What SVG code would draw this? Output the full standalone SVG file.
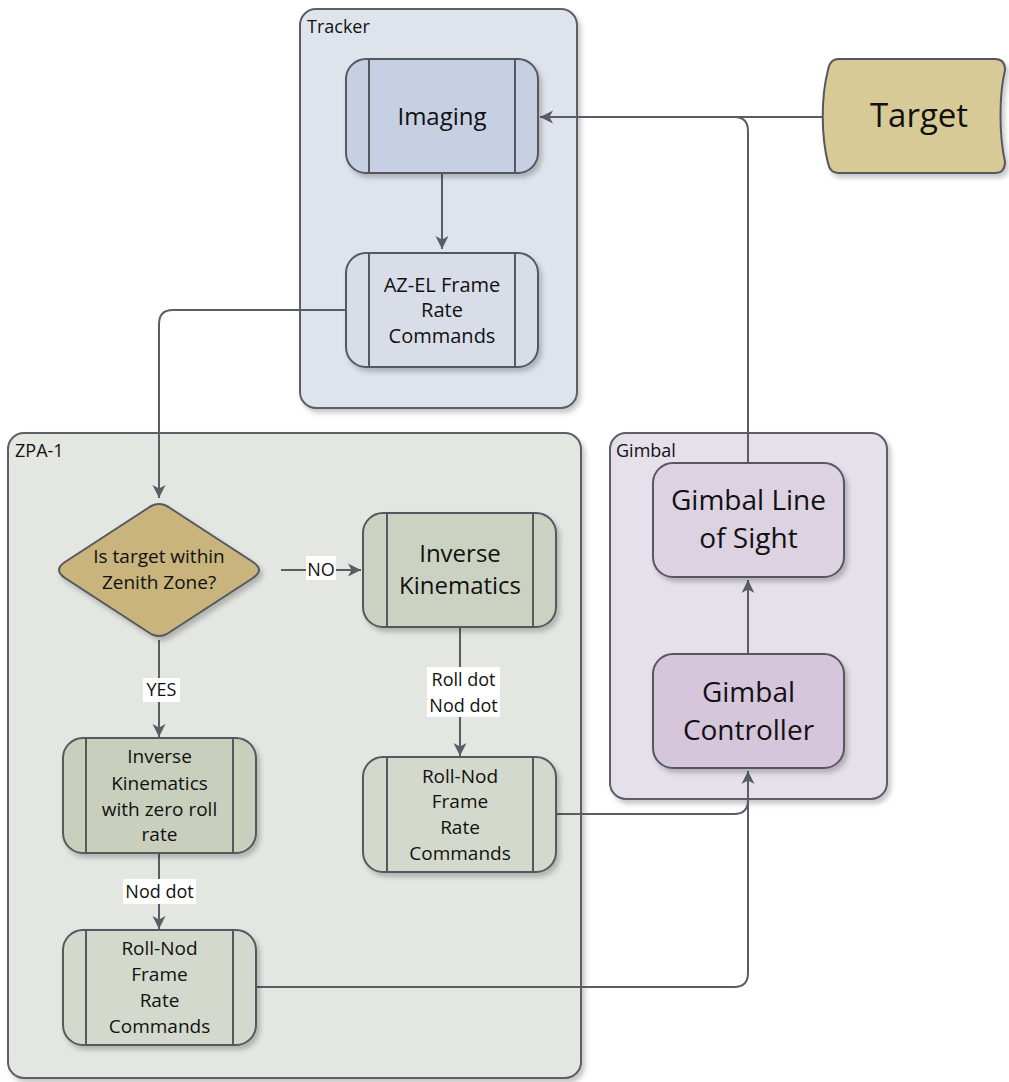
<svg xmlns="http://www.w3.org/2000/svg" width="1009" height="1082" viewBox="0 0 1009 1082">
<style>
text{font-family:"Open Sans","Noto Sans",sans-serif;fill:#111;}
.c{text-anchor:middle;}
.cont{stroke:#5c5f66;stroke-width:2;}
.node{stroke:#55585e;stroke-width:2;}
.div{stroke:#55585e;stroke-width:2;fill:none;}
.conn path{fill:none;stroke:#5a5d64;stroke-width:2;}
.lbl{fill:#fff;}
.s19{font-size:19px;}
.s18{font-size:18px;}
.big{font-size:28px;}
</style>
<defs>
<filter id="sh" x="-10%" y="-10%" width="130%" height="130%">
<feDropShadow dx="3" dy="4" stdDeviation="2.5" flood-color="#000" flood-opacity="0.22"/>
</filter>
<marker id="ah" markerUnits="userSpaceOnUse" markerWidth="14" markerHeight="14" refX="13" refY="7" orient="auto">
<path d="M0,0.5 L13,7 L0,13.5 L3.5,7 z" fill="#5a5d64"/>
</marker>
</defs>
<rect width="1009" height="1082" fill="#fff"/>

<g id="tracker">
<rect class="cont" x="300" y="9" width="277" height="399" rx="16" fill="#dfe4ec" filter="url(#sh)"/>
<text x="307" y="33" style="font-size:18px">Tracker</text>
</g>
<g id="zpa1">
<rect class="cont" x="8" y="433" width="573" height="645" rx="16" fill="#e3e6e1" filter="url(#sh)"/>
<text x="15" y="457" style="font-size:18px">ZPA-1</text>
</g>
<g id="gimbal">
<rect class="cont" x="610" y="433" width="277" height="366" rx="16" fill="#e6e0ea" filter="url(#sh)"/>
<text x="616" y="457" style="font-size:18px">Gimbal</text>
</g>

<g class="conn" id="connectors">
<path d="M442 173 V249" marker-end="url(#ah)"/>
<path d="M825 117 H540" marker-end="url(#ah)"/>
<path d="M748 463 V131 Q748 117 734 117 H700"/>
<path d="M346 310 H173 Q159 310 159 324 V498" marker-end="url(#ah)"/>
<path d="M281 570 H361" marker-end="url(#ah)"/>
<path d="M159 640 V737" marker-end="url(#ah)"/>
<path d="M460 627 V756" marker-end="url(#ah)"/>
<path d="M159 853 V929" marker-end="url(#ah)"/>
<path d="M556 814 H734 Q748 814 748 800 V771" marker-end="url(#ah)"/>
<path d="M256 987 H734 Q748 987 748 973 V790"/>
<path d="M748 654 V580" marker-end="url(#ah)"/>
</g>

<g id="imaging">
<rect class="node" x="346" y="59" width="192" height="114" rx="20" fill="#c7cfe2" filter="url(#sh)"/>
<path class="div" d="M369 59 V173 M515 59 V173"/>
<text class="c" x="442" y="125" style="font-size:24px">Imaging</text>
</g>
<g id="azel">
<rect class="node" x="346" y="253" width="192" height="114" rx="20" fill="#d8dde7" filter="url(#sh)"/>
<path class="div" d="M369 253 V367 M515 253 V367"/>
<text class="c" x="442" y="292" style="font-size:20px">AZ-EL Frame</text>
<text class="c" x="442" y="317" style="font-size:20px">Rate</text>
<text class="c" x="442" y="343" style="font-size:20px">Commands</text>
</g>
<g id="target">
<path class="node" d="M838 59 H995 Q1005 59 1005 70 C999 95 999 135 1005 162 Q1005 173 995 173 H838 Q830 173 828 163 C821 135 821 97 828 70 Q830 59 838 59 Z" fill="#d7ca97" filter="url(#sh)"/>
<text class="c" x="919" y="127" style="font-size:33px">Target</text>
</g>
<g id="decision">
<path class="node" d="M170 508 L253 562 Q265 570 253 578 L170 632 Q159 640 148 632 L65 578 Q53 570 65 562 L148 508 Q159 500 170 508 Z" fill="#c8b47b" filter="url(#sh)"/>
<text class="c s19" x="159" y="563">Is target within</text>
<text class="c s19" x="159" y="589">Zenith Zone?</text>
</g>
<g id="ik">
<rect class="node" x="363" y="513" width="193" height="114" rx="20" fill="#cbd2c2" filter="url(#sh)"/>
<path class="div" d="M387 513 V627 M533 513 V627"/>
<text class="c" x="460" y="562" style="font-size:24px">Inverse</text>
<text class="c" x="460" y="594" style="font-size:24px">Kinematics</text>
</g>
<g id="ikzero">
<rect class="node" x="63" y="738" width="193" height="115" rx="20" fill="#c8cfbd" filter="url(#sh)"/>
<path class="div" d="M86 738 V853 M233 738 V853"/>
<text class="c s19" x="159.5" y="763">Inverse</text>
<text class="c s19" x="159.5" y="790">Kinematics</text>
<text class="c s19" x="159.5" y="816">with zero roll</text>
<text class="c s19" x="159.5" y="841">rate</text>
</g>
<g id="rollnod1">
<rect class="node" x="363" y="757" width="193" height="115" rx="20" fill="#d4d9cd" filter="url(#sh)"/>
<path class="div" d="M387 757 V872 M533 757 V872"/>
<text class="c s19" x="460" y="783">Roll-Nod</text>
<text class="c s19" x="460" y="808">Frame</text>
<text class="c s19" x="460" y="834">Rate</text>
<text class="c s19" x="460" y="860">Commands</text>
</g>
<g id="rollnod2">
<rect class="node" x="63" y="930" width="193" height="115" rx="20" fill="#d4d9cd" filter="url(#sh)"/>
<path class="div" d="M86 930 V1045 M233 930 V1045"/>
<text class="c s19" x="159.5" y="955">Roll-Nod</text>
<text class="c s19" x="159.5" y="981">Frame</text>
<text class="c s19" x="159.5" y="1007">Rate</text>
<text class="c s19" x="159.5" y="1033">Commands</text>
</g>
<g id="glos">
<rect class="node" x="653" y="463" width="191" height="114" rx="20" fill="#ddd2e1" filter="url(#sh)"/>
<text class="c big" x="748.5" y="510">Gimbal Line</text>
<text class="c big" x="748.5" y="548">of Sight</text>
</g>
<g id="gc">
<rect class="node" x="653" y="654" width="191" height="114" rx="20" fill="#d6c6dc" filter="url(#sh)"/>
<text class="c big" x="748.5" y="702">Gimbal</text>
<text class="c big" x="748.5" y="740">Controller</text>
</g>

<g id="labels">
<rect class="lbl" x="306" y="556" width="30" height="24"/>
<text class="c s18" x="321" y="576">NO</text>
<rect class="lbl" x="143" y="678" width="37" height="24"/>
<text class="c s18" x="161.5" y="696">YES</text>
<rect class="lbl" x="427" y="667" width="73" height="50"/>
<text class="c s18" x="463.5" y="686">Roll dot</text>
<text class="c s18" x="463.5" y="712">Nod dot</text>
<rect class="lbl" x="123" y="879" width="73" height="25"/>
<text class="c s18" x="159.5" y="898">Nod dot</text>
</g>
</svg>
